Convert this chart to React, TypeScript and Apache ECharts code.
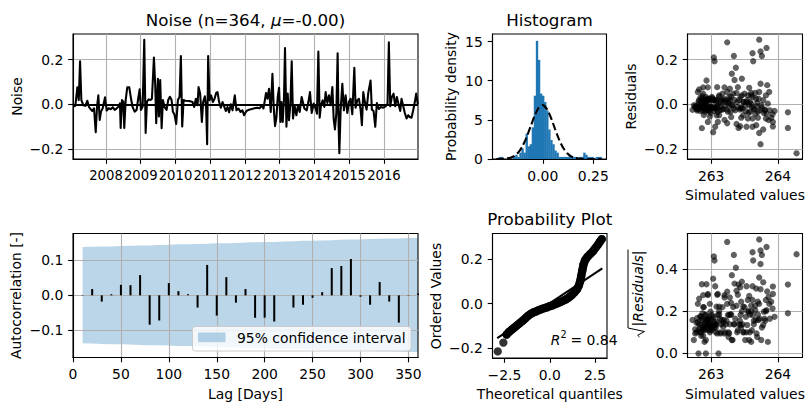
import React, { useEffect, useRef } from "react";
import * as echarts from "echarts";

const FONT = "DejaVu Sans";
const FS = 13.9;
const TFS = 16.7;

// ---------------- Noise time series (decimal years, value) ----------------
const noiseT = [
  2007.060, 2007.118, 2007.175, 2007.216, 2007.253, 2007.290, 2007.348, 2007.405, 2007.463, 2007.512,
  2007.560, 2007.606, 2007.655, 2007.704, 2007.741, 2007.779, 2007.819, 2007.856, 2007.905, 2007.971,
  2008.020, 2008.078, 2008.135, 2008.193, 2008.250, 2008.308, 2008.365, 2008.402, 2008.422, 2008.460,
  2008.497, 2008.526, 2008.566, 2008.612, 2008.670, 2008.718, 2008.767, 2008.825, 2008.882, 2008.920,
  2008.968, 2009.006, 2009.055, 2009.101, 2009.141, 2009.178, 2009.227, 2009.273, 2009.322, 2009.379,
  2009.417, 2009.445, 2009.494, 2009.523, 2009.560, 2009.601, 2009.638, 2009.687, 2009.744, 2009.790,
  2009.839, 2009.888, 2009.925, 2009.974, 2010.020, 2010.069, 2010.118, 2010.155, 2010.193, 2010.233,
  2010.279, 2010.394, 2010.491, 2010.537, 2010.586, 2010.635, 2010.664, 2010.710, 2010.759, 2010.796,
  2010.845, 2010.882, 2010.911, 2010.940, 2010.980, 2011.026, 2011.075, 2011.124, 2011.170, 2011.210,
  2011.256, 2011.305, 2011.354, 2011.400, 2011.448, 2011.497, 2011.543, 2011.592, 2011.641, 2011.707,
  2011.756, 2011.813, 2011.871, 2011.928, 2011.974, 2012.043, 2012.118, 2012.196, 2012.273, 2012.348,
  2012.425, 2012.483, 2012.532, 2012.569, 2012.606, 2012.647, 2012.693, 2012.742, 2012.790, 2012.828,
  2012.865, 2012.905, 2012.943, 2012.980, 2013.020, 2013.049, 2013.086, 2013.124, 2013.152, 2013.193,
  2013.230, 2013.267, 2013.308, 2013.345, 2013.382, 2013.431, 2013.480, 2013.526, 2013.575, 2013.632,
  2013.710, 2013.776, 2013.825, 2013.871, 2013.920, 2013.977, 2014.035, 2014.072, 2014.112, 2014.150,
  2014.187, 2014.236, 2014.285, 2014.322, 2014.371, 2014.417, 2014.466, 2014.515, 2014.552, 2014.589,
  2014.629, 2014.667, 2014.696, 2014.716, 2014.753, 2014.802, 2014.848, 2014.897, 2014.946, 2014.992,
  2015.040, 2015.089, 2015.147, 2015.184, 2015.233, 2015.279, 2015.328, 2015.365, 2015.405, 2015.451,
  2015.500, 2015.549, 2015.615, 2015.652, 2015.701, 2015.750, 2015.796, 2015.854, 2015.911, 2015.980,
  2016.046, 2016.104, 2016.141, 2016.181, 2016.227, 2016.276, 2016.325, 2016.371, 2016.420, 2016.469,
  2016.506, 2016.555, 2016.601, 2016.650, 2016.698, 2016.744, 2016.793, 2016.842, 2016.888, 2016.928,
  2016.974,
];
const noiseV = [
  -0.010, -0.007, 0.076, 0.019, 0.193, 0.019, -0.004, -0.007, 0.016, -0.013,
  -0.022, -0.030, -0.018, -0.125, -0.013, 0.040, -0.070, -0.033, -0.018, 0.031,
  -0.028, -0.018, -0.022, -0.013, -0.025, -0.018, -0.010, 0.004, -0.106, 0.019,
  0.012, -0.106, 0.019, 0.076, 0.076, 0.027, -0.013, -0.033, -0.025, 0.019,
  0.067, -0.025, -0.010, 0.290, -0.129, 0.012, 0.022, 0.019, 0.025, 0.210,
  0.086, -0.085, 0.115, -0.055, 0.109, -0.107, 0.019, -0.013, -0.025, 0.019,
  0.034, 0.019, -0.033, -0.048, -0.088, 0.019, 0.034, 0.217, -0.100, 0.019,
  0.016, 0.015, 0.010, -0.012, 0.025, -0.004, 0.077, 0.048, -0.079, 0.010,
  0.036, -0.015, -0.179, 0.217, 0.018, 0.040, 0.010, 0.025, 0.051, 0.055,
  0.010, -0.015, 0.010, -0.009, -0.030, -0.012, -0.036, 0.000, -0.027, 0.040,
  -0.027, -0.019, -0.034, -0.027, -0.049, -0.030, -0.024, -0.021, -0.018, -0.015,
  -0.018, -0.004, -0.019, 0.015, 0.051, 0.025, 0.070, -0.034, 0.137, -0.015,
  -0.098, -0.060, 0.033, 0.074, -0.079, 0.010, -0.079, 0.033, 0.253, -0.101,
  0.048, -0.071, 0.003, 0.193, -0.064, -0.009, -0.049, -0.004, -0.034, 0.033,
  -0.019, -0.027, 0.010, 0.055, -0.039, 0.003, -0.019, -0.042, 0.237, -0.060,
  -0.004, 0.018, -0.012, 0.055, 0.006, 0.040, -0.004, 0.077, -0.064, -0.113,
  -0.042, 0.229, -0.101, -0.220, -0.027, 0.092, -0.027, 0.040, -0.039, 0.010,
  0.025, -0.045, 0.164, -0.015, 0.018, 0.025, -0.024, -0.094, 0.055, 0.010,
  -0.024, 0.051, 0.107, -0.024, -0.030, -0.101, 0.006, -0.021, -0.012, -0.015,
  -0.009, 0.003, 0.278, -0.009, 0.033, 0.048, -0.009, 0.033, 0.000, -0.030,
  0.025, -0.009, -0.039, -0.064, -0.049, -0.057, -0.060, -0.027, 0.010, 0.048,
  0.000,
];
// Simulated value paired with each residual above
const simValues = [
  262.78, 262.85, 262.95, 262.90, 263.05, 262.82, 262.74, 262.88, 263.00, 262.93,
  262.80, 262.97, 262.86, 263.03, 262.76, 263.12, 263.20, 262.91, 263.05, 262.84,
  262.79, 262.95, 263.08, 262.87, 262.72, 262.99, 262.83, 262.92, 263.41, 263.15,
  262.81, 264.15, 262.96, 262.88, 263.20, 263.02, 262.89, 263.10, 262.94, 263.06,
  262.82, 263.16, 262.98, 263.72, 263.72, 262.90, 263.04, 263.22, 262.86, 263.04,
  263.84, 263.24, 263.46, 262.98, 263.35, 262.86, 263.28, 263.01, 262.92, 263.35,
  263.12, 262.97, 263.25, 262.89, 263.38, 263.08, 263.30, 263.34, 263.925, 263.42,
  263.18, 262.93, 263.26, 263.40, 262.99, 263.32, 263.09, 263.50, 263.925, 263.14,
  262.87, 263.45, 263.74, 263.76, 263.03, 263.55, 263.21, 262.95, 263.38, 262.80,
  263.48, 263.07, 262.85, 263.27, 263.52, 263.00, 264.15, 263.11, 262.96, 263.60,
  263.36, 262.91, 263.58, 263.13, 263.48, 262.84, 263.23, 262.78, 263.44, 263.05,
  262.94, 263.31, 263.64, 262.89, 263.66, 263.19, 263.28, 263.70, 263.31, 263.02,
  263.435, 263.90, 263.44, 263.57, 263.10, 263.53, 262.95, 262.92, 263.83, 263.62,
  263.17, 263.86, 263.60, 263.63, 263.55, 263.68, 263.08, 263.75, 263.29, 263.62,
  263.47, 263.80, 263.39, 263.72, 263.56, 263.85, 263.34, 263.66, 263.74, 263.70,
  263.51, 263.78, 263.61, 263.24, 263.69, 263.82, 263.57, 263.40, 263.62, 263.78,
  263.83, 263.62, 263.53, 264.28, 263.73, 263.74, 263.88, 263.46, 263.79, 263.58,
  263.67, 263.92, 263.37, 263.76, 263.54, 263.71, 263.64, 263.675, 263.87, 263.49,
  263.81, 263.60, 262.93, 263.43, 263.95, 263.06, 263.26, 263.18, 262.97, 262.83,
  263.09, 262.90, 263.24, 262.76, 263.01, 262.88, 263.14, 263.27, 262.81, 263.04,
  262.94, 263.20, 262.99, 263.82, 263.12, 263.30, 263.45, 262.87, 263.07, 263.33,
  262.92,
];
const yearTicks = [2008, 2009, 2010, 2011, 2012, 2013, 2014, 2015, 2016];

// ---------------- Histogram ----------------
const nObs = 364;
const histStart = -0.218;
const histWidth = 0.0102;
const histCounts = [
  1, 1, 0, 0, 0, 0, 0, 1, 2, 1,
  3, 5, 3, 12, 6, 7, 15, 30, 56, 47,
  31, 30, 27, 23, 14, 9, 7, 4, 3, 1,
  1, 1, 1, 1, 2, 1, 1, 1, 0, 1,
  1, 3, 2, 1, 1, 1, 0, 1, 1, 1,
];
const pdfX = [-0.23, -0.2, -0.18, -0.16, -0.14, -0.12, -0.1, -0.08, -0.06, -0.04, -0.02, 0.0, 0.02, 0.04, 0.06, 0.08, 0.1, 0.12, 0.14, 0.16, 0.18, 0.2, 0.22, 0.24, 0.26, 0.29];
const pdfY = [0.003, 0.016, 0.062, 0.17, 0.4, 0.87, 1.65, 2.8, 4.17, 5.55, 6.56, 6.88, 6.4, 5.3, 3.89, 2.53, 1.46, 0.76, 0.34, 0.14, 0.05, 0.016, 0.004, 0.001, 0.0002, 0];

// ---------------- Autocorrelation ----------------
const acfLags = [10, 20, 30, 40, 50, 60, 70, 80, 90, 100, 110, 120, 130, 140, 150, 160, 170, 180, 190, 200, 210, 220, 230, 240, 250, 260, 270, 280, 290, 300, 310, 320, 330, 340, 350, 360];
const acfVals = [0.001, 0.018, -0.018, 0.003, 0.03, 0.029, 0.058, -0.084, -0.072, 0.035, 0.012, 0.003, -0.035, 0.087, -0.058, 0.052, -0.021, 0.018, -0.064, -0.064, -0.075, 0.0, -0.035, -0.027, -0.007, 0.009, 0.078, 0.084, 0.104, -0.004, -0.027, 0.038, -0.018, -0.078, -0.001, 0.005];
const ciUpper = [0.138, 0.139, 0.1395, 0.14, 0.141, 0.142, 0.1425, 0.143, 0.144, 0.145, 0.146, 0.146, 0.147, 0.148, 0.149, 0.149, 0.15, 0.151, 0.152, 0.153, 0.153, 0.154, 0.155, 0.156, 0.156, 0.157, 0.158, 0.159, 0.16, 0.16, 0.161, 0.162, 0.163, 0.163, 0.164, 0.164];
const ciLower = [-0.137, -0.138, -0.139, -0.14, -0.14, -0.141, -0.142, -0.143, -0.143, -0.144, -0.145, -0.145, -0.146, -0.147, -0.148, -0.148, -0.149, -0.15, -0.15, -0.151, -0.152, -0.153, -0.153, -0.154, -0.155, -0.155, -0.156, -0.157, -0.158, -0.158, -0.159, -0.16, -0.16, -0.161, -0.162, -0.162];
const acfTicks = [0, 50, 100, 150, 200, 250, 300, 350];

// ---------------- Probability plot ----------------
const qqX = [-2.87, -2.56, -2.38, -2.25, -2.1, -1.95, -1.8, -1.65, -1.5, -1.35, -1.2, -1.05, -0.9, -0.75, -0.6, -0.45, -0.3, -0.15, 0.0, 0.15, 0.3, 0.45, 0.6, 0.75, 0.9, 1.05, 1.2, 1.35, 1.5, 1.6, 1.68, 1.74, 1.8, 1.86, 1.95, 2.08, 2.22, 2.38, 2.52, 2.66, 2.78, 2.87];
const qqY = [-0.216, -0.176, -0.14, -0.128, -0.118, -0.108, -0.098, -0.088, -0.078, -0.067, -0.056, -0.047, -0.04, -0.035, -0.03, -0.025, -0.021, -0.017, -0.012, -0.008, -0.003, 0.002, 0.007, 0.013, 0.019, 0.027, 0.037, 0.049, 0.064, 0.08, 0.1, 0.125, 0.15, 0.175, 0.195, 0.21, 0.222, 0.235, 0.25, 0.265, 0.28, 0.29];
const qqLineX = [-2.9, 2.9];
const qqLineY = [-0.156, 0.158];

// ---------------- helpers ----------------
const minus = (s: string) => s.replace("-", "\u2212");
const f0 = (v: number) => minus(String(Math.round(v)));
const f1 = (v: number) => minus((Math.abs(v) < 1e-9 ? 0 : v).toFixed(1));
const f2 = (v: number) => minus((Math.abs(v) < 1e-9 ? 0 : v).toFixed(2));

function axis(gridIndex: number, min: number, max: number, step: number, ticks: number[], fmt: any, showGrid: boolean, labelSize: number = FS) {
  return {
    type: "value",
    gridIndex,
    min,
    max,
    minInterval: step,
    maxInterval: step,
    axisLine: { show: true, onZero: false, lineStyle: { color: "#000", width: 1.1 } },
    axisTick: { show: true, length: 4.8, lineStyle: { color: "#000", width: 1.1 }, customValues: ticks },
    axisLabel: {
      customValues: ticks,
      formatter: fmt,
      color: "#000",
      fontSize: labelSize,
      fontFamily: FONT,
      margin: 9.7,
      showMinLabel: true,
      showMaxLabel: true,
      hideOverlap: false,
    },
    splitLine: { show: showGrid, lineStyle: { color: "#b0b0b0", width: 1.1 } },
  };
}

function text(x: number, y: number, s: string, opts: any = {}) {
  const size = opts.size || FS;
  const style = opts.italic ? "italic " : "";
  const align = opts.align || "center";
  return {
    type: "text",
    x,
    y,
    rotation: opts.rot || 0,
    silent: true,
    style: {
      text: s,
      font: `${style}${size}px "${FONT}"`,
      fill: "#000",
      textAlign: align,
      align,
      textVerticalAlign: "middle",
      verticalAlign: "middle",
    },
  };
}

function buildOption() {
  const grids = [
    { left: 73, top: 34, width: 345, height: 125 },
    { left: 492.5, top: 34, width: 114, height: 125 },
    { left: 687.5, top: 34, width: 115, height: 125 },
    { left: 73, top: 233.5, width: 345, height: 124 },
    { left: 492.5, top: 233.5, width: 114.5, height: 124.5 },
    { left: 687.5, top: 233.5, width: 115, height: 124 },
  ].map((g) => ({ ...g, show: true, borderColor: "#000", borderWidth: 1.1, backgroundColor: "transparent" }));

  const xAxis = [
    axis(0, 2007.05, 2016.98, 1, yearTicks, f0, true, 13.2),
    axis(1, -0.249, 0.3155, 0.25, [0, 0.25], f2, false),
    axis(2, 262.645, 264.369, 1, [263, 264], f0, true),
    axis(3, 0, 360, 50, acfTicks, f0, true),
    axis(4, -3.16, 3.16, 2.5, [-2.5, 0, 2.5], f1, false),
    axis(5, 262.645, 264.369, 1, [263, 264], f0, true),
  ];
  const yAxis = [
    axis(0, -0.2455, 0.3155, 0.2, [-0.2, 0, 0.2], f1, true),
    axis(1, 0, 15.96, 5, [0, 5, 10, 15], f0, false),
    axis(2, -0.2455, 0.3155, 0.2, [-0.2, 0, 0.2], f1, true),
    axis(3, -0.178, 0.177, 0.1, [-0.1, 0, 0.1], f1, true),
    axis(4, -0.2455, 0.3155, 0.2, [-0.2, 0, 0.2], f1, false),
    axis(5, -0.019, 0.567, 0.2, [0, 0.2, 0.4], f1, true),
  ];

  const series: any[] = [
    // Noise line
    {
      type: "line",
      xAxisIndex: 0,
      yAxisIndex: 0,
      data: noiseT.map((t, i) => [t, noiseV[i]]),
      symbol: "none",
      showSymbol: false,
      clip: true,
      lineStyle: { color: "#000", width: 2.08, join: "round" },
      markLine: {
        silent: true,
        symbol: "none",
        label: { show: false },
        lineStyle: { color: "#000", width: 2.08, type: "solid" },
        data: [{ yAxis: 0 }],
      },
    },
    // Histogram
    {
      type: "custom",
      xAxisIndex: 1,
      yAxisIndex: 1,
      clip: true,
      silent: true,
      data: histCounts.map((c, i) => [histStart + i * histWidth, c / (nObs * histWidth), histStart + (i + 1) * histWidth]),
      renderItem: (params: any, api: any) => {
        const x0 = api.value(0);
        const d = api.value(1);
        const x1 = api.value(2);
        if (!(d > 0)) return null;
        const a = api.coord([x0, d]);
        const b = api.coord([x1, 0]);
        return {
          type: "rect",
          shape: { x: a[0], y: a[1], width: b[0] - a[0] + 0.3, height: b[1] - a[1] },
          style: { fill: "#1f77b4" },
        };
      },
    },
    {
      type: "line",
      xAxisIndex: 1,
      yAxisIndex: 1,
      data: pdfX.map((x, i) => [x, pdfY[i]]),
      symbol: "none",
      smooth: 0.2,
      z: 4,
      lineStyle: { color: "#000", width: 2.08, type: [7.7, 3.3] },
    },
    // Residuals vs simulated
    {
      type: "scatter",
      xAxisIndex: 2,
      yAxisIndex: 2,
      data: simValues.map((s, i) => [s, noiseV[i]]),
      symbolSize: 6.3,
      itemStyle: { color: "rgba(0,0,0,0.78)" },
    },
    // ACF band
    {
      type: "custom",
      name: "95% confidence interval",
      xAxisIndex: 3,
      yAxisIndex: 3,
      z: -1,
      silent: true,
      clip: true,
      data: [[acfLags[0], 0]],
      renderItem: (params: any, api: any) => {
        const pts: number[][] = [];
        for (let i = 0; i < acfLags.length; i++) pts.push(api.coord([acfLags[i], ciUpper[i]]));
        for (let i = acfLags.length - 1; i >= 0; i--) pts.push(api.coord([acfLags[i], ciLower[i]]));
        return { type: "polygon", shape: { points: pts }, style: { fill: "rgba(31,119,180,0.3)" } };
      },
    },
    // ACF bars
    {
      type: "bar",
      xAxisIndex: 3,
      yAxisIndex: 3,
      data: acfLags.map((l, i) => [l, acfVals[i]]),
      barWidth: 2,
      itemStyle: { color: "#000" },
      silent: true,
    },
    // QQ band
    {
      type: "line",
      xAxisIndex: 4,
      yAxisIndex: 4,
      data: qqX.slice(2).map((x, i) => [x, qqY[i + 2]]),
      symbol: "none",
      showSymbol: false,
      lineStyle: { color: "#000", width: 8.3, cap: "round", join: "round" },
    },
    {
      type: "scatter",
      xAxisIndex: 4,
      yAxisIndex: 4,
      data: qqX.map((x, i) => [x, qqY[i]]),
      symbolSize: 8.3,
      itemStyle: { color: "#000" },
    },
    {
      type: "line",
      xAxisIndex: 4,
      yAxisIndex: 4,
      data: qqLineX.map((x, i) => [x, qqLineY[i]]),
      symbol: "none",
      z: 5,
      lineStyle: { color: "#000", width: 2.08 },
    },
    // sqrt(|residuals|) vs simulated
    {
      type: "scatter",
      xAxisIndex: 5,
      yAxisIndex: 5,
      data: simValues.map((s, i) => [s, Math.sqrt(Math.abs(noiseV[i]))]),
      symbolSize: 6.3,
      itemStyle: { color: "rgba(0,0,0,0.78)" },
    },
  ];

  const R90 = Math.PI / 2;
  const graphic: any[] = [
    // Titles
    {
      type: "text",
      x: 245.5,
      y: 19.6,
      silent: true,
      style: {
        text: "{a|Noise (n=364, }{b|\u03bc}{a|=-0.00)}",
        rich: {
          a: { fontSize: TFS, fontFamily: FONT, fill: "#000" },
          b: { fontSize: TFS, fontFamily: FONT, fontStyle: "italic", fill: "#000" },
        },
        textAlign: "center",
        align: "center",
        textVerticalAlign: "middle",
        verticalAlign: "middle",
      },
    },
    text(549.5, 19.6, "Histogram", { size: TFS }),
    text(549.75, 219.3, "Probability Plot", { size: TFS }),
    // Axis labels
    text(17, 96.5, "Noise", { rot: R90 }),
    text(451, 96.5, "Probability density", { rot: R90 }),
    text(630.5, 96.5, "Residuals", { rot: R90 }),
    text(745, 195, "Simulated values"),
    text(15.5, 295.5, "Autocorrelation [-]", { rot: R90 }),
    text(245.5, 394, "Lag [Days]"),
    text(435.5, 296, "Ordered Values", { rot: R90 }),
    text(549.75, 394, "Theoretical quantiles"),
    text(745, 394, "Simulated values"),
    // sqrt(|Residuals|) label
    {
      type: "group",
      x: 638,
      y: 293,
      rotation: R90,
      silent: true,
      children: [
        {
          type: "text",
          x: 4.5,
          y: 0,
          style: {
            text: "|Residuals|",
            font: `italic ${FS}px "${FONT}"`,
            fill: "#000",
            textAlign: "center",
            align: "center",
            textVerticalAlign: "middle",
            verticalAlign: "middle",
          },
        },
        {
          type: "polyline",
          shape: { points: [[-44, 1.5], [-42.3, -0.3], [-38.5, 6.5], [-35, -10], [43.5, -10]] },
          style: { stroke: "#000", lineWidth: 1, fill: null },
        },
      ],
    },
    // R^2 annotation
    text(550.7, 340, "R", { italic: true, align: "left" }),
    text(560.6, 334, "2", { size: 9.7, align: "left" }),
    text(570.5, 340, "= 0.84", { align: "left" }),
    // Legend for ACF
    {
      type: "rect",
      silent: true,
      z: 100,
      shape: { x: 192.5, y: 326.5, width: 218.5, height: 24.5, r: 3 },
      style: { fill: "rgba(255,255,255,0.8)", stroke: "#cccccc", lineWidth: 1 },
    },
    {
      type: "rect",
      silent: true,
      z: 101,
      shape: { x: 198, y: 332.5, width: 27.5, height: 9.7 },
      style: { fill: "rgba(31,119,180,0.3)" },
    },
    { ...text(237, 338, "95% confidence interval", { align: "left" }), z: 101 },
  ];

  return {
    animation: false,
    backgroundColor: "#fff",
    textStyle: { fontFamily: FONT },
    grid: grids,
    xAxis,
    yAxis,
    series,
    graphic,
  };
}

export default function App() {
  const ref = useRef<HTMLDivElement>(null);
  useEffect(() => {
    if (!ref.current) return;
    const chart = echarts.init(ref.current, null, { renderer: "svg" });
    chart.setOption(buildOption() as any);
    return () => chart.dispose();
  }, []);
  return (
    <div
      ref={ref}
      style={{ position: "fixed", left: 0, top: 0, width: 811, height: 411, background: "#fff" }}
    />
  );
}
